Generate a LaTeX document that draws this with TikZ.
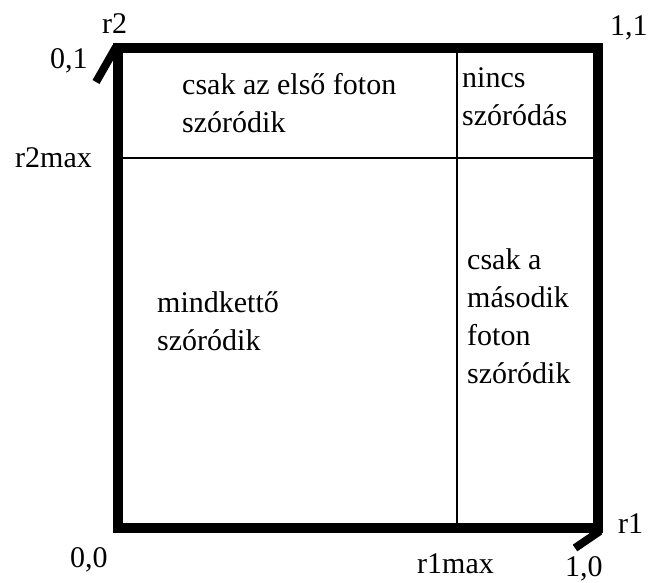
\documentclass[tikz,border=0pt]{standalone}
\usepackage{fontspec}
\setmainfont{Liberation Serif}
\begin{document}
\begin{tikzpicture}[x=1pt,y=-1pt,
  lbl/.style={inner sep=0pt, anchor=base west, font=\fontsize{30}{38}\selectfont},
  region/.style={lbl, align=left},
  frame/.style={line width=10pt, line join=miter},
  divider/.style={line width=1.5pt},
  tickmark/.style={line width=8pt}]
\useasboundingbox (0,0) rectangle (648,582);
% corners of the square
\coordinate (c00) at (118,528);
\coordinate (c10) at (598,528);
\coordinate (c11) at (598,48);
\coordinate (c01) at (118,48);
% divider ends
\coordinate (vtop) at (457,48);
\coordinate (vbot) at (457,528);
\coordinate (hleft) at (118,158);
\coordinate (hright) at (598,158);
\draw[divider] (vtop) -- (vbot);
\draw[divider] (hleft) -- (hright);
\draw[frame] (c00) -- (c10) -- (c11) -- (c01) -- cycle;
% ticks
\coordinate (t1a) at (116,47);
\coordinate (t1b) at (96,82);
\coordinate (t2a) at (600,531);
\coordinate (t2b) at (575,548);
\draw[tickmark] (t1a) -- (t1b);
\draw[tickmark] (t2a) -- (t2b);
% axis labels
\node[lbl] (lr2) at (102,33) {r2};
\node[lbl] (l01) at (50,68) {0,1};
\node[lbl] (l11) at (610,35) {1,1};
\node[lbl] (lr2max) at (15,167) {r2max};
\node[lbl] (l00) at (70,567) {0,0};
\node[lbl] (lr1max) at (417,573) {r1max};
\node[lbl] (l10) at (565,576) {1,0};
\node[lbl] (lr1) at (618,533) {r1};
% region texts (base anchor = baseline of the last line)
\node[region] (first) at (182,132) {csak az első foton\\szóródik};
\node[region] (none) at (462,125) {nincs\\szóródás};
\node[region] (both) at (157,350) {mindkettő\\szóródik};
\node[region] (second) at (467,383) {csak a\\második\\foton\\szóródik};
\end{tikzpicture}
\end{document}
